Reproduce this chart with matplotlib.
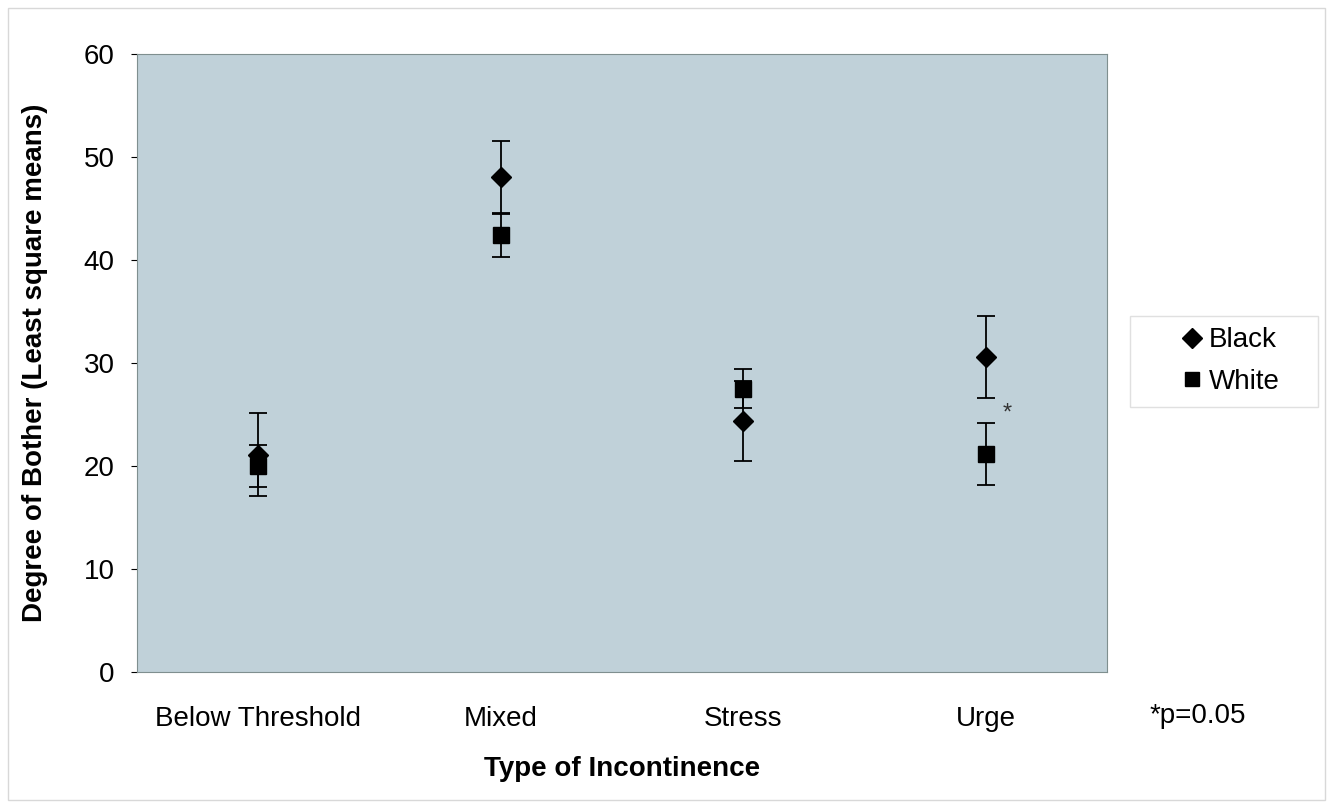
import numpy as np
import matplotlib.pyplot as plt
from matplotlib.patches import Rectangle
from matplotlib.lines import Line2D

plt.rcParams["font.family"] = ["Liberation Sans", "DejaVu Sans"]

categories = ["Below Threshold", "Mixed", "Stress", "Urge"]
black_mean = [21.1, 48.1, 24.4, 30.6]
black_err = [4.0, 3.5, 3.9, 4.0]
white_mean = [20.0, 42.4, 27.5, 21.2]
white_err = [2.0, 2.1, 1.9, 3.0]

fig = plt.figure(figsize=(13.33, 8.1), dpi=100)
fig.patches.append(Rectangle((0.006, 0.012), 0.988, 0.978, transform=fig.transFigure,
                             fill=False, edgecolor="#d8d8d8", linewidth=1))
ax = fig.add_axes([0.1028, 0.1704, 0.7277, 0.7629])
ax.set_facecolor("#c0d1d9")

x = np.arange(len(categories))
ax.errorbar(x, black_mean, yerr=black_err, fmt="D", color="black", markersize=10,
            ecolor="black", elinewidth=1.3, capsize=6.5, capthick=1.3, zorder=3)
ax.errorbar(x, white_mean, yerr=white_err, fmt="s", color="black", markersize=12,
            ecolor="black", elinewidth=1.3, capsize=6.5, capthick=1.3, zorder=3)

ax.text(x[3] + 0.09, 25.1, "*", fontsize=17, ha="center", va="center", color="#333333")

ax.set_xlim(-0.5, 3.5)
ax.set_ylim(0, 60)
ax.set_yticks(range(0, 61, 10))
ax.set_xticks(x)
ax.set_xticklabels(categories, fontsize=20)
ax.tick_params(axis="y", labelsize=20, length=4, pad=12)
ax.tick_params(axis="x", length=0, pad=24.5)
for s in ax.spines.values():
    s.set_color("#7f8f8f")

ax.set_xlabel("Type of Incontinence", fontsize=20, fontweight="bold", labelpad=17)
ax.set_ylabel("Degree of Bother (Least square means)", fontsize=20, fontweight="bold", labelpad=26)

# legend frame drawn separately, it is wider than the entries
fig.patches.append(Rectangle((1130 / 1333, 1 - 407 / 810), 188 / 1333, 91 / 810,
                             transform=fig.transFigure, facecolor="white",
                             edgecolor="#e0e0e0", linewidth=1))
handles = [Line2D([], [], marker="D", color="black", linestyle="none", markersize=10),
           Line2D([], [], marker="s", color="black", linestyle="none", markersize=10)]
leg = fig.legend(handles, ["Black", "White"], loc="center left",
                 bbox_to_anchor=(1181 / 1333, 1 - 361 / 810), fontsize=20, frameon=False,
                 handlelength=0.8, handletextpad=0.2, borderpad=0, labelspacing=0.55,
                 borderaxespad=0)

fig.text(1198 / 1333, 1 - 716 / 810, "*p=0.05", fontsize=20, ha="center", va="center")

plt.savefig("out.png", dpi=100)
